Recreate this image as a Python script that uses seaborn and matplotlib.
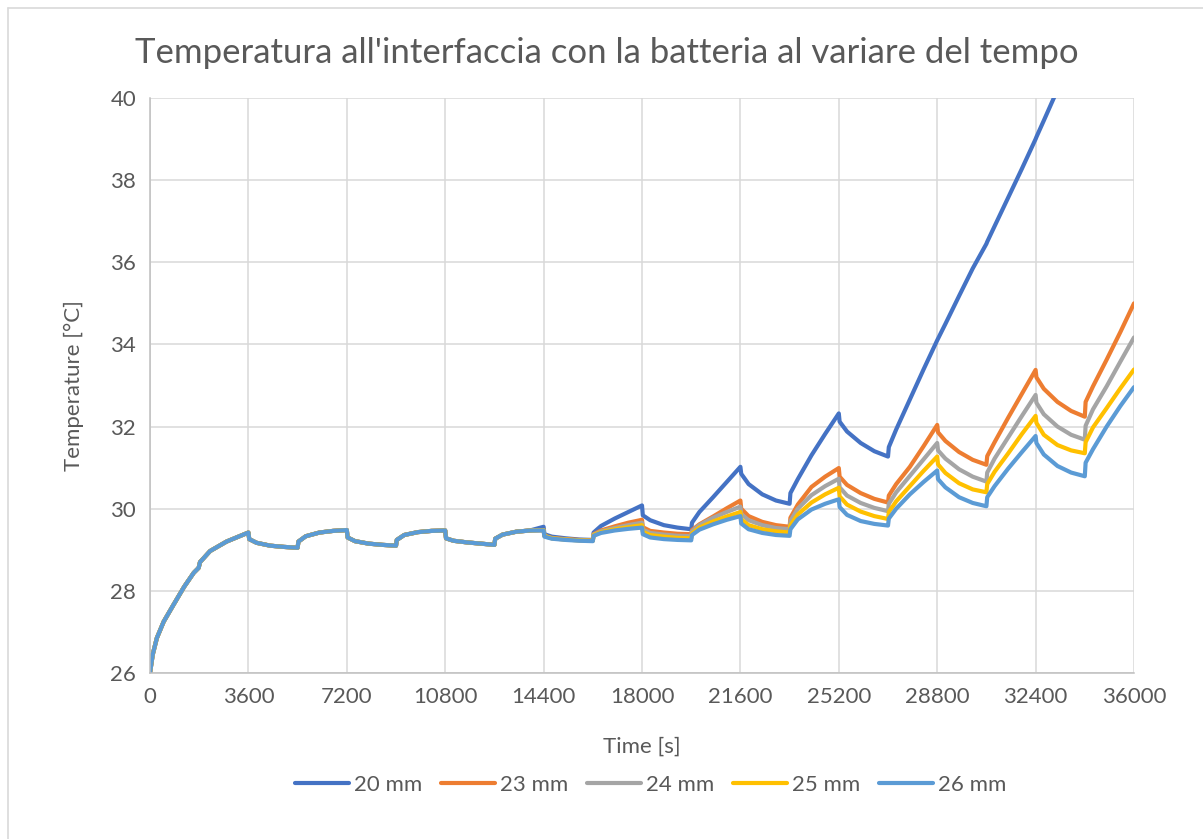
import matplotlib
matplotlib.use("Agg")
import matplotlib.pyplot as plt
import pandas as pd
import seaborn as sns
from matplotlib.lines import Line2D

# time axis [s] - shared start (all thicknesses overlap until ~14400 s)
early_time = [0, 100, 250, 500, 850, 1250, 1600, 1780, 1830, 2200, 2800, 3600,
              3630, 3900, 4400, 4900, 5400, 5430, 5700, 6200, 6700, 7200,
              7230, 7500, 8000, 8500, 9000, 9030, 9300, 9800, 10300, 10800,
              10830, 11100, 11600, 12100, 12600, 12630, 12900, 13400, 13900]
early_temp = [26.0, 26.45, 26.85, 27.25, 27.65, 28.1, 28.44, 28.56, 28.7,
              28.97, 29.2, 29.42,
              29.26, 29.17, 29.1, 29.07, 29.05, 29.2, 29.33, 29.42, 29.46, 29.48,
              29.3, 29.21, 29.15, 29.12, 29.1, 29.24, 29.36, 29.43, 29.46, 29.47,
              29.28, 29.22, 29.18, 29.15, 29.12, 29.27, 29.37, 29.44, 29.47]

tail_time = [14400,
             14430, 14700, 15200, 15700, 16200, 16230, 16500, 17000, 17500, 18000,
             18030, 18300, 18800, 19300, 19800, 19830, 20100, 20600, 21100, 21600,
             21630, 21900, 22400, 22900, 23400, 23430, 23700, 24200, 24700, 25200,
             25230, 25500, 26000, 26500, 27000, 27030, 27300, 27800, 28300, 28800,
             28830, 29100, 29600, 30100, 30600, 30630, 30900, 31400, 31900, 32400,
             32430, 32700, 33200, 33700, 34200, 34230, 34500, 35000, 35500, 36000]

t_20mm = [29.56,
          29.38, 29.32, 29.28, 29.25, 29.24, 29.42, 29.58, 29.76, 29.92, 30.08,
          29.84, 29.72, 29.6, 29.54, 29.5, 29.66, 29.92, 30.28, 30.65, 31.02,
          30.85, 30.6, 30.35, 30.2, 30.12, 30.38, 30.72, 31.3, 31.82, 32.32,
          32.12, 31.88, 31.6, 31.4, 31.27, 31.5, 31.93, 32.66, 33.39, 34.1,
          34.14, 34.5, 35.18, 35.85, 36.45, 36.5, 36.88, 37.58, 38.28, 39.0,
          39.05, 39.45, 40.2, 40.95, 41.7, 41.75, 42.15, 42.9, 43.6, 44.3]
t_23mm = [29.48,
          29.34, 29.29, 29.26, 29.24, 29.23, 29.38, 29.47, 29.57, 29.66, 29.73,
          29.55, 29.46, 29.42, 29.39, 29.38, 29.48, 29.62, 29.81, 30.01, 30.2,
          30.0, 29.82, 29.68, 29.6, 29.56, 29.78, 30.1, 30.53, 30.78, 30.99,
          30.78, 30.58, 30.38, 30.24, 30.15, 30.32, 30.6, 31.02, 31.52, 32.04,
          31.86, 31.65, 31.38, 31.19, 31.07, 31.28, 31.62, 32.22, 32.8, 33.38,
          33.2, 32.92, 32.6, 32.38, 32.24, 32.6, 32.98, 33.63, 34.3, 35.0]
t_24mm = [29.48,
          29.34, 29.28, 29.25, 29.23, 29.22, 29.37, 29.45, 29.53, 29.6, 29.66,
          29.49, 29.41, 29.37, 29.34, 29.33, 29.45, 29.6, 29.78, 29.92, 30.05,
          29.87, 29.72, 29.6, 29.53, 29.5, 29.7, 30.0, 30.33, 30.55, 30.73,
          30.52, 30.32, 30.14, 30.02, 29.94, 30.12, 30.4, 30.8, 31.2, 31.6,
          31.42, 31.22, 30.96, 30.78, 30.66, 30.88, 31.22, 31.74, 32.26, 32.77,
          32.58, 32.3, 32.0, 31.8, 31.68, 32.02, 32.42, 32.98, 33.58, 34.17]
t_25mm = [29.48,
          29.34, 29.28, 29.25, 29.23, 29.22, 29.36, 29.43, 29.5, 29.55, 29.6,
          29.44, 29.36, 29.32, 29.29, 29.28, 29.4, 29.54, 29.69, 29.81, 29.92,
          29.74, 29.6, 29.5, 29.45, 29.42, 29.6, 29.86, 30.15, 30.35, 30.51,
          30.3, 30.1, 29.93, 29.82, 29.75, 29.92, 30.18, 30.55, 30.92, 31.27,
          31.08, 30.87, 30.62, 30.47, 30.4, 30.6, 30.9, 31.35, 31.82, 32.26,
          32.09, 31.8, 31.55, 31.42, 31.35, 31.62, 31.98, 32.45, 32.93, 33.39]
t_26mm = [29.47,
          29.32, 29.27, 29.24, 29.22, 29.21, 29.34, 29.41, 29.47, 29.51, 29.54,
          29.38, 29.3, 29.26, 29.24, 29.23, 29.36, 29.49, 29.62, 29.73, 29.82,
          29.64, 29.5, 29.41, 29.36, 29.34, 29.5, 29.74, 29.98, 30.12, 30.23,
          30.04, 29.85, 29.7, 29.63, 29.59, 29.76, 30.0, 30.35, 30.65, 30.93,
          30.72, 30.52, 30.28, 30.14, 30.06, 30.28, 30.55, 30.98, 31.38, 31.77,
          31.6, 31.32, 31.04, 30.88, 30.79, 31.12, 31.45, 32.0, 32.5, 32.96]

series_names = ["20 mm", "23 mm", "24 mm", "25 mm", "26 mm"]
series_tails = [t_20mm, t_23mm, t_24mm, t_25mm, t_26mm]
colors = ["#4472C4", "#ED7D31", "#A5A5A5", "#FFC000", "#5B9BD5"]

rows = []
for name, tail in zip(series_names, series_tails):
    for t, v in zip(early_time + tail_time, early_temp + tail):
        rows.append({"time": t, "temp": v, "series": name})
df = pd.DataFrame(rows)

sns.set_theme(style="white")
plt.rcParams["font.family"] = ["Lato", "DejaVu Sans"]
text_col = "#595959"
grid_col = "#D9D9D9"
axis_col = "#BFBFBF"

fig = plt.figure(figsize=(12.03, 8.39), dpi=100)
ax = fig.add_axes([150 / 1203, 1 - 673 / 839, 984 / 1203, 575 / 839])

sns.lineplot(data=df, x="time", y="temp", hue="series", palette=colors,
             hue_order=series_names, estimator=None, linewidth=3.0,
             legend=False, ax=ax)

ax.set_xlim(0, 36000)
ax.set_ylim(26, 40)
ax.set_xticks(range(0, 36001, 3600))
ax.set_yticks(range(26, 41, 2))
ax.grid(True, color=grid_col, linewidth=1.1)
ax.set_axisbelow(True)
for side in ["top", "right"]:
    ax.spines[side].set_visible(False)
for side in ["left", "bottom"]:
    ax.spines[side].set_color(axis_col)
    ax.spines[side].set_linewidth(1.1)
ax.tick_params(axis="both", direction="out", length=5, width=1.1,
               color=axis_col, labelcolor=text_col, labelsize=16, pad=5)

ax.set_xlabel("Time [s]", fontsize=16, color=text_col)
ax.set_ylabel("Temperature [°C]", fontsize=16, color=text_col)
ax.xaxis.set_label_coords(0.5, -0.111)
ax.yaxis.set_label_coords(-0.067, 0.5)

fig.text(0.5046, 1 - 53 / 839,
         "Temperatura all'interfaccia con la batteria al variare del tempo",
         ha="center", va="center", fontsize=25, color=text_col)

handles = [Line2D([], [], color=c, linewidth=3.0) for c in colors]
ax.legend(handles, series_names, loc="center", bbox_to_anchor=(0.509, -0.195),
          ncol=5, frameon=False, fontsize=16, labelcolor=text_col,
          handlelength=2.4, handletextpad=0.25, columnspacing=0.85)

# light chart-area frame like the spreadsheet export
fig.add_artist(Line2D([8 / 1203, 1], [1 - 8 / 839, 1 - 8 / 839],
                      transform=fig.transFigure, color=grid_col, lw=1.2))
fig.add_artist(Line2D([8 / 1203, 8 / 1203], [0, 1 - 8 / 839],
                      transform=fig.transFigure, color=grid_col, lw=1.2))

fig.savefig("out.png", dpi=100)
